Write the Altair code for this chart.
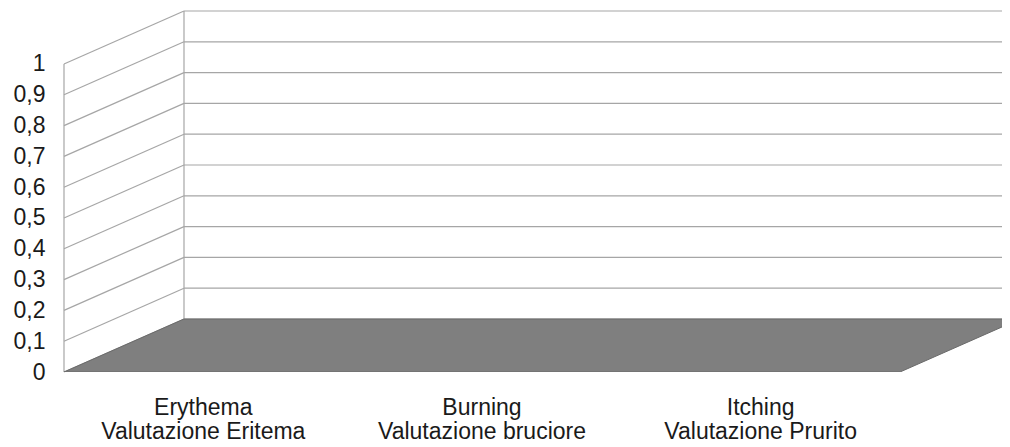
import altair as alt
import pandas as pd

# ---- data ----
categories = ["Erythema", "Burning", "Itching"]
labels_it = ["Valutazione Eritema", "Valutazione bruciore", "Valutazione Prurito"]
values = [0, 0, 0]
y_ticks = [0, 0.1, 0.2, 0.3, 0.4, 0.5, 0.6, 0.7, 0.8, 0.9, 1]

# ---- 3D projection parameters (layout) ----
DX = 0.4306   # depth offset along x, in category units
DY = 0.172    # depth offset along y, in value units
PLOT_W = 938
PX_PER_CAT = 278.67
XMAX = PLOT_W / PX_PER_CAT
YMAX = 1.1753
n = len(categories)

xs = alt.Scale(domain=[0, XMAX], nice=False, zero=False)
ys = alt.Scale(domain=[0, YMAX], nice=False, zero=False)

grid_color = "#a6a6a6"
font = "Liberation Sans"

y_axis = alt.Axis(
    values=y_ticks,
    labelExpr="replace(format(datum.value, '.1~f'), '.', ',')",
    domain=False,
    ticks=False,
    tickSize=0,
    grid=False,
    labelPadding=19,
    labelFontSize=23,
    labelFont=font,
    labelColor="#1a1a1a",
    title=None,
)

ticks_df = pd.DataFrame({"v": y_ticks})
ticks_df["vb"] = ticks_df["v"] + DY
ticks_df["x0"] = 0.0
ticks_df["xb"] = DX
ticks_df["xe"] = n + DX

# floor (parallelogram)
floor_df = pd.DataFrame({
    "x": [0.0, DX, float(n), n + DX],
    "lo": [0.0, 0.0, 0.0, DY],
    "hi": [0.0, DY, DY, DY],
})
floor = alt.Chart(floor_df).mark_area(
    color="#7f7f7f", stroke="#6a6a6a", strokeWidth=1, clip=True,
    interpolate="linear", orient="vertical",
).encode(
    x=alt.X("x:Q", scale=xs, axis=None),
    y=alt.Y("lo:Q", scale=ys, axis=y_axis),
    y2="hi:Q",
)

# left (side) wall slanted grid lines
side = alt.Chart(ticks_df).mark_rule(color=grid_color, strokeWidth=1.2).encode(
    x=alt.X("x0:Q", scale=xs, axis=None),
    x2="xb:Q",
    y=alt.Y("v:Q", scale=ys, axis=y_axis),
    y2="vb:Q",
)

# back wall horizontal grid lines
back = alt.Chart(ticks_df).mark_rule(color=grid_color, strokeWidth=1.2, clip=True).encode(
    x=alt.X("xb:Q", scale=xs, axis=None),
    x2="xe:Q",
    y=alt.Y("vb:Q", scale=ys, axis=y_axis),
)

# vertical wall edges
edges_df = pd.DataFrame({
    "x": [0.0, DX],
    "y1": [min(y_ticks), min(y_ticks) + DY],
    "y2": [max(y_ticks), max(y_ticks) + DY],
})
edges = alt.Chart(edges_df).mark_rule(color=grid_color, strokeWidth=1.2).encode(
    x=alt.X("x:Q", scale=xs, axis=None),
    y=alt.Y("y1:Q", scale=ys, axis=y_axis),
    y2="y2:Q",
)

# bars (all values are zero)
bars_df = pd.DataFrame({
    "x1": [i + 0.25 for i in range(n)],
    "x2": [i + 0.75 for i in range(n)],
    "value": values,
})
bars = alt.Chart(bars_df).mark_rect(color="#4f81bd").encode(
    x=alt.X("x1:Q", scale=xs, axis=None),
    x2="x2:Q",
    y=alt.Y("value:Q", scale=ys, axis=y_axis),
    y2=alt.datum(0),
)

# category labels
lab_df = pd.DataFrame({
    "x": [i + 0.5 for i in range(n)],
    "label": [f"{a}\n{b}" for a, b in zip(categories, labels_it)],
})
labels = alt.Chart(lab_df).mark_text(
    lineBreak="\n", fontSize=23, font=font, baseline="alphabetic",
    align="center", lineHeight=23.5, color="#1a1a1a",
).encode(
    x=alt.X("x:Q", scale=xs, axis=None),
    y=alt.value(405),
    text="label:N",
)

chart = alt.layer(side, back, edges, floor, bars, labels).properties(
    width=PLOT_W,
    height=362,
    padding={"left": 56, "top": 2, "right": 0, "bottom": 75},
    autosize=alt.AutoSizeParams(type="none"),
    background="white",
).configure_view(stroke=None)

chart.save("out.html", embed_options={"renderer": "svg", "actions": False})
